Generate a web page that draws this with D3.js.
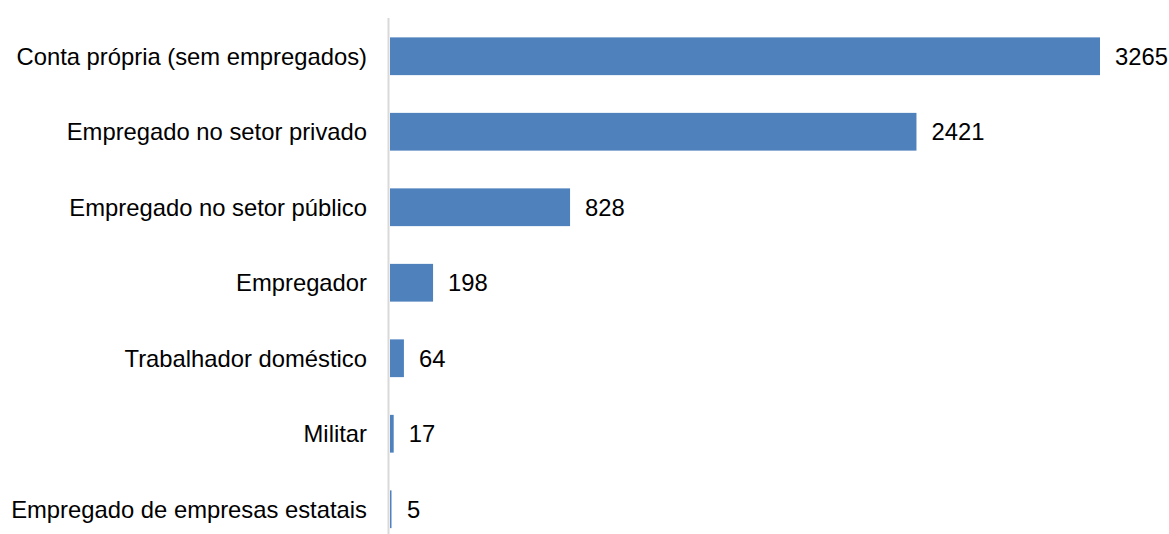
<!DOCTYPE html>
<html><head><meta charset="utf-8">
<script src="https://cdn.jsdelivr.net/npm/d3@7"></script>
<style>body{margin:0;background:#fff;}svg{display:block;}</style>
</head><body>
<script>
const categories = ["Conta própria (sem empregados)","Empregado no setor privado","Empregado no setor público","Empregador","Trabalhador doméstico","Militar","Empregado de empresas estatais"];
const values = [3265, 2421, 828, 198, 64, 17, 5];

const W = 1169, H = 534;
const svg = d3.select("body").append("svg").attr("width", W).attr("height", H);
const x0 = 390;
const x = d3.scaleLinear().domain([0, 3265]).range([x0, 1100]);
const y = d3.scaleBand().domain(categories).range([18.5, 547]).paddingInner(0.5).paddingOuter(0.25);

svg.append("line").attr("x1", 388.5).attr("x2", 388.5).attr("y1", 18).attr("y2", 534)
  .attr("stroke", "#d9d9d9").attr("stroke-width", 2);

svg.selectAll("rect.bar").data(values).join("rect").attr("class","bar")
  .attr("x", x0).attr("y", (d,i)=>y(categories[i]))
  .attr("width", d => Math.max(1.5, x(d) - x0)).attr("height", y.bandwidth())
  .attr("fill", "#4f81bd");

svg.selectAll("text.val").data(values).join("text").attr("class","val")
  .attr("x", d => Math.max(x(d), x0 + 2) + 15).attr("y", (d,i)=>y(categories[i]) + y.bandwidth()/2)
  .attr("dy", "0.35em").attr("font-family", "Liberation Sans, Arial, sans-serif").attr("font-size", 23.8)
  .attr("fill", "#000").text(d => d);

svg.selectAll("text.cat").data(categories).join("text").attr("class","cat")
  .attr("x", 367).attr("y", d => y(d) + y.bandwidth()/2)
  .attr("dy", "0.35em").attr("text-anchor", "end")
  .attr("font-family", "Liberation Sans, Arial, sans-serif").attr("font-size", 23.8)
  .attr("fill", "#000").text(d => d);
</script>
</body></html>
